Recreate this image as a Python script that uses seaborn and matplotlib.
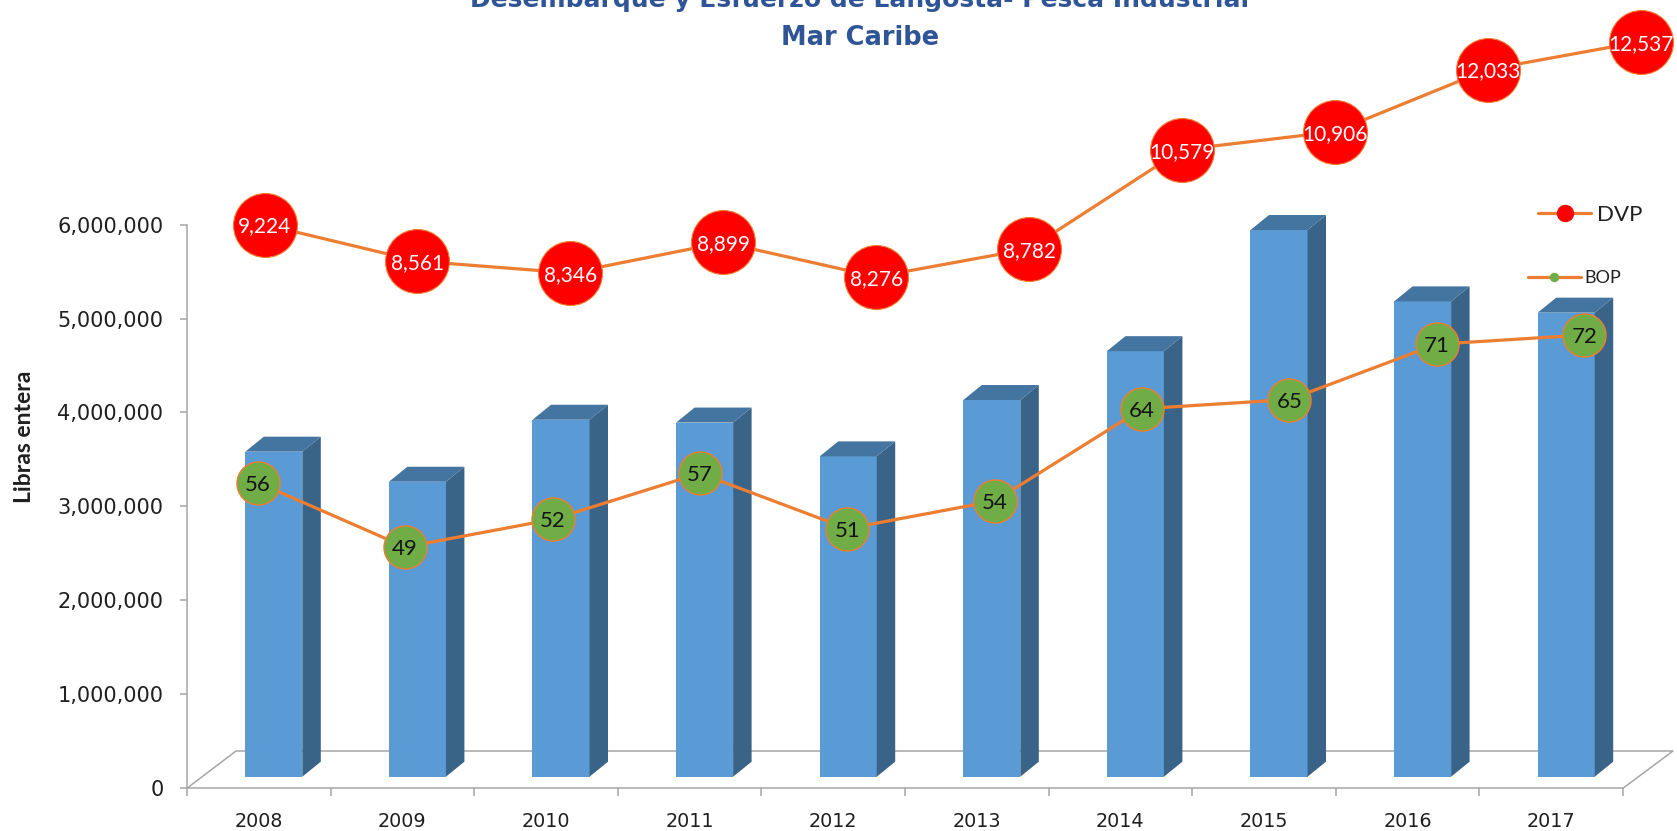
import numpy as np
import pandas as pd
import matplotlib
matplotlib.use("Agg")
import matplotlib.pyplot as plt
import matplotlib.transforms as mtrans
from matplotlib.patches import Polygon
from matplotlib.lines import Line2D
import seaborn as sns

# ---------------- data ----------------
years = ["2008", "2009", "2010", "2011", "2012", "2013", "2014", "2015", "2016", "2017"]
landings = [3460000, 3140000, 3800000, 3770000, 3410000, 4010000, 4530000, 5820000, 5060000, 4940000]
dvp = [9224, 8561, 8346, 8899, 8276, 8782, 10579, 10906, 12033, 12537]
bop = [56, 49, 52, 57, 51, 54, 64, 65, 71, 72]
yticks = [0, 1000000, 2000000, 3000000, 4000000, 5000000, 6000000]
title_lines = ["Desembarque y Esfuerzo de Langosta- Pesca Industrial", "Mar Caribe"]
ylabel = "Libras entera"

# ---------------- style ----------------
sns.set_style("white")
plt.rcParams["font.family"] = ["DejaVu Sans"]

W, H = 1677, 831
FRONT = "#5B9BD5"
TOP = "#4474A0"
SIDE = "#3A6388"
ORANGE = "#ED7D31"
GRAY = "#A6A6A6"
TXT = "#1f1f1f"

fig = plt.figure(figsize=(W / 100, H / 100), dpi=100)


def rect(left, top, right, bottom):
    return [left / W, 1 - bottom / H, (right - left) / W, (bottom - top) / H]


pos = rect(187, 224.6, 1677, 788.2)
cat_px = 143.6          # pixels per category on the value axis
val_px = 93.93          # pixels per million

# ---------------- main axis (ticks, floor) ----------------
ax = fig.add_axes(pos)
ax.set_facecolor("none")
ax.set_xlim(-0.5, -0.5 + 1490 / cat_px)
ax.set_ylim(0, 6000000)
for s in ["top", "right"]:
    ax.spines[s].set_visible(False)
for s in ["left", "bottom"]:
    ax.spines[s].set_color(GRAY)
    ax.spines[s].set_linewidth(1.1)
ax.spines["bottom"].set_bounds(-0.5, 9.5)
ax.set_yticks(yticks)
ax.set_yticklabels([f"{v:,}" for v in yticks])
ax.set_xticks(range(len(years)))
ax.set_xticklabels(years)
ax.set_xticks(np.arange(-0.5, len(years), 1.0), minor=True)
ax.tick_params(axis="x", which="major", bottom=True, length=0, pad=17,
               labelsize=13.8, labelcolor=TXT)
ax.tick_params(axis="x", which="minor", bottom=True, length=5.8, width=1.1,
               color=GRAY, direction="out")
ax.tick_params(axis="y", left=True, length=5, width=1.1, color=GRAY,
               pad=12, labelsize=15, labelcolor=TXT)

# 3D floor outline (pixel coordinates from top-left)
T = mtrans.Affine2D().scale(1, -1).translate(0, H)
ax.plot([187, 236, 1673, 1623], [788.2, 751, 751, 788.2], transform=T,
        color=GRAY, lw=1.1, clip_on=False)

# ---------------- bars ----------------
axb = fig.add_axes(pos)
axb.set_facecolor("none")
df = pd.DataFrame({"Año": years, "Libras": landings})
sns.barplot(data=df, x="Año", y="Libras", ax=axb, color=FRONT, width=0.397,
            saturation=1, linewidth=0)
off = 15 / cat_px
axb.set_xlim(-0.5 - off, -0.5 - off + 1490 / cat_px)
base = (788.2 - 776.7) / val_px * 1e6
axb.set_ylim(-base, 6000000 - base)
axb.axis("off")
dx = 18.5 / cat_px
dy = 15 / val_px * 1e6
for p in list(axb.patches):
    p.set_clip_on(False)
    x0 = p.get_x()
    x1 = x0 + p.get_width()
    h = p.get_height()
    axb.add_patch(Polygon([(x1, 0), (x1, h), (x1 + dx, h + dy), (x1 + dx, dy)],
                          closed=True, facecolor=SIDE, edgecolor="none", clip_on=False))
    axb.add_patch(Polygon([(x0, h), (x1, h), (x1 + dx, h + dy), (x0 + dx, h + dy)],
                          closed=True, facecolor=TOP, edgecolor="none", clip_on=False))

# ---------------- DVP line ----------------
axd = fig.add_axes(pos)
axd.set_facecolor("none")
sns.lineplot(x=np.arange(len(dvp)), y=dvp, ax=axd, color=ORANGE, lw=2.3,
             marker="o", markersize=46, markerfacecolor="#FF0000",
             markeredgecolor=ORANGE, markeredgewidth=0.8, legend=False)
axd.set_xlim(-0.507, 9.238)
axd.set_ylim(-991.4, 9222.4)
axd.axis("off")
for ln in axd.lines:
    ln.set_clip_on(False)
for i, v in enumerate(dvp):
    axd.text(i, v, f"{v:,}", ha="center", va="center_baseline", color="white",
             fontsize=15, family="Lato", clip_on=False)

# ---------------- BOP line ----------------
axp = fig.add_axes(pos)
axp.set_facecolor("none")
sns.lineplot(x=np.arange(len(bop)), y=bop, ax=axp, color=ORANGE, lw=2.3,
             marker="o", markersize=31, markerfacecolor="#70AD47",
             markeredgecolor=ORANGE, markeredgewidth=1.0, legend=False)
axp.set_xlim(-0.4797, 9.629)
axp.set_ylim(22.85, 83.97)
axp.axis("off")
for ln in axp.lines:
    ln.set_clip_on(False)
for i, v in enumerate(bop):
    axp.text(i, v, f"{v}", ha="center", va="center_baseline", color="#141414",
             fontsize=16, family="Lato", clip_on=False)

# ---------------- legends ----------------
h1 = Line2D([], [], color=ORANGE, lw=2.3, marker="o", ms=11.5,
            markerfacecolor="#FF0000", markeredgecolor="#FF0000")
fig.legend(handles=[h1], labels=["DVP"], loc="center left",
           bbox_to_anchor=(1538 / W, 1 - 215 / H), frameon=False,
           prop={"family": "Lato", "size": 16}, handlelength=2.39,
           handletextpad=0.27, borderpad=0, borderaxespad=0, labelcolor=TXT)
h2 = Line2D([], [], color=ORANGE, lw=2.3, marker="o", ms=5.8,
            markerfacecolor="#70AD47", markeredgecolor="#70AD47")
fig.legend(handles=[h2], labels=["BOP"], loc="center left",
           bbox_to_anchor=(1528 / W, 1 - 278 / H), frameon=False,
           prop={"family": "Lato", "size": 13}, handlelength=2.93,
           handletextpad=0.22, borderpad=0, borderaxespad=0, labelcolor=TXT)

# ---------------- titles / labels ----------------
fig.text(860 / W, 1 - 7 / H, title_lines[0], ha="center", va="baseline",
         fontsize=18, fontweight="bold", color="#2F5597")
fig.text(860 / W, 1 - 45 / H, title_lines[1], ha="center", va="baseline",
         fontsize=18.5, fontweight="bold", color="#2F5597")
fig.text(25 / W, 1 - 437 / H, ylabel, rotation=90, ha="center", va="center",
         fontsize=16.5, fontweight="bold", family="Lato", color=TXT)

fig.savefig("out.png", dpi=100)
